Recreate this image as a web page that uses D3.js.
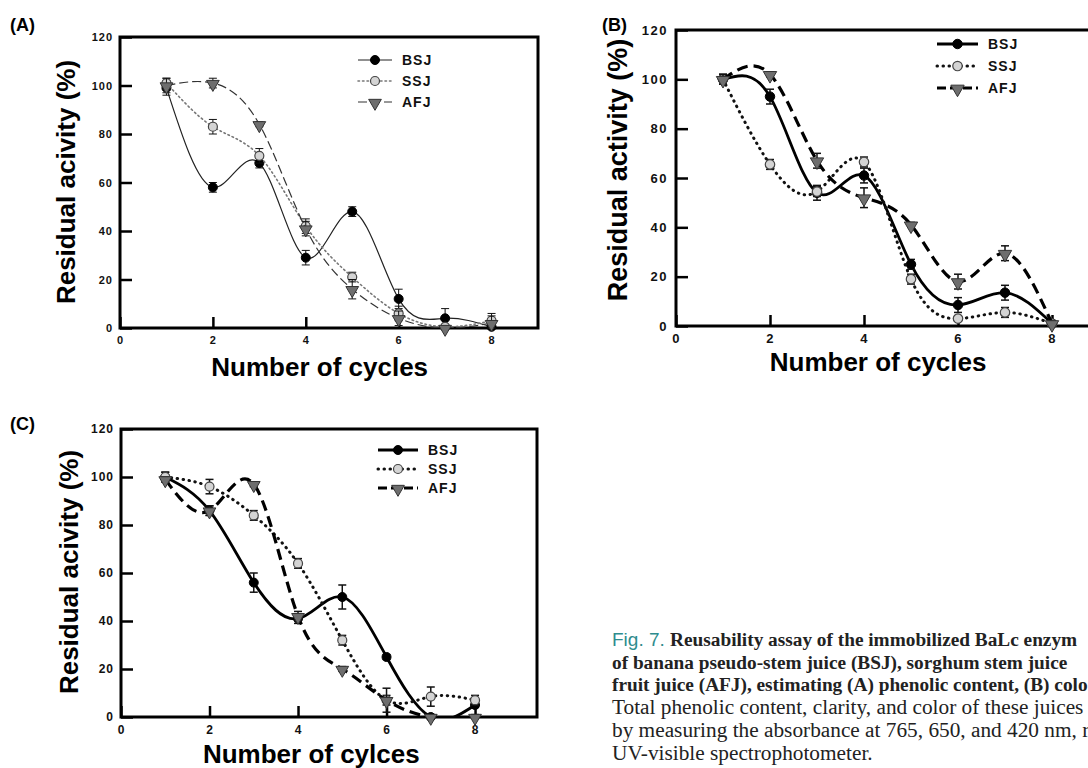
<!DOCTYPE html>
<html>
<head>
<meta charset="utf-8">
<script src="https://cdn.jsdelivr.net/npm/d3@7"></script>
<style>
  body { margin: 0; background: #fff; }
  svg { display: block; }
</style>
</head>
<body>
<div id="graph"></div>
<script>
// data
var cycles = [1, 2, 3, 4, 5, 6, 7, 8];
var xTicks = [0, 2, 4, 6, 8];
var yTicks = [0, 20, 40, 60, 80, 100, 120];
var seriesNames = ["BSJ", "SSJ", "AFJ"];

// (A) phenolic content
var bsjA = [99, 58, 68, 29, 48, 12, 4, 0.5];
var bsjAErr = [3, 2, 2, 3, 2, 4, 4, 1];
var ssjA = [101, 83, 71, 42, 21, 6, 0.5, 3];
var ssjAErr = [2, 3, 3, 3, 2, 3, 1, 3];
var afjA = [100, 101, 84, 41, 16, 4, 0, 2];
var afjAErr = [3, 2, 1, 3, 4, 3, 1, 3];

// (B) colour
var bsjB = [100, 93, 54, 61, 25, 8.5, 13.5, 1];
var bsjBErr = [2, 3, 3, 3, 2, 3, 3, 1];
var ssjB = [100, 65.5, 54.5, 66.5, 19, 3, 5.5, 1];
var ssjBErr = [2, 2, 2, 2, 2, 1, 2, 1];
var afjB = [100, 102, 67, 52, 41, 18, 29.5, 1];
var afjBErr = [2, 1, 3, 4, 1, 3, 3, 1];

// (C) clarity
var bsjC = [100, 86, 56, 41, 50, 25, 0, 5];
var bsjCErr = [2, 2, 4, 2, 5, 1, 1, 1];
var ssjC = [100, 96, 84, 64, 32, 7, 8.5, 7];
var ssjCErr = [2, 3, 2, 2, 2, 2, 4, 2];
var afjC = [99, 86, 97, 42, 20, 7, 0, 0];
var afjCErr = [1, 2, 1, 2, 1, 5, 1, 1];

// caption, as much of each line as the picture shows
var captionLines = [
  "Reusability assay of the immobilized BaLc enzym",
  "of banana pseudo-stem juice (BSJ), sorghum stem juice",
  "fruit juice (AFJ), estimating (A) phenolic content, (B) colo",
  "Total phenolic content, clarity, and color of these juices",
  "by measuring the absorbance at 765, 650, and 420 nm, r",
  "UV-visible spectrophotometer."
];

var svg = d3.select("#graph")
  .append("svg")
    .attr("width", 1088)
    .attr("height", 768);

var sans = "'Liberation Sans', Arial, sans-serif";

// line styles: thin for A, heavy for B and C
var thinStyle = {
  BSJ: {w: 1.2, dash: null, color: "#222"},
  SSJ: {w: 1.6, dash: "1.5,3", color: "#777"},
  AFJ: {w: 1.2, dash: "9,4", color: "#333"}
};
var heavyStyle = {
  BSJ: {w: 2.8, dash: null, color: "#000"},
  SSJ: {w: 3, dash: "0.5,5.5", color: "#111"},
  AFJ: {w: 3.2, dash: "11,6", color: "#000"}
};

function drawPanel(p) {
  var x = d3.scaleLinear().domain([0, p.xMax]).range([p.left, p.right]);
  var y = d3.scaleLinear().domain([0, 120]).range([p.bottom, p.top]);
  var g = svg.append("g");

  var clipId = "clip" + p.label;
  svg.append("clipPath").attr("id", clipId)
    .append("rect")
      .attr("x", p.left).attr("y", p.top)
      .attr("width", p.right - p.left).attr("height", p.bottom - p.top);

  // y axis, ticks pointing inwards
  var yAxis = g.append("g")
    .attr("transform", "translate(" + p.left + ",0)")
    .call(d3.axisLeft(y).tickValues(yTicks).tickSizeInner(-12).tickSizeOuter(0).tickPadding(p.yPad));
  yAxis.select(".domain").remove();
  yAxis.selectAll("line").attr("stroke", "#000").attr("stroke-width", 2.5);
  yAxis.selectAll("text")
    .attr("font-family", sans).attr("font-weight", "bold")
    .attr("font-size", p.tickFont).attr("letter-spacing", p.tickSpacing)
    .attr("fill", "#111");

  var xAxis = g.append("g")
    .attr("transform", "translate(0," + p.bottom + ")")
    .call(d3.axisBottom(x).tickValues(xTicks).tickSizeInner(-11).tickSizeOuter(0).tickPadding(p.xPad));
  xAxis.select(".domain").remove();
  xAxis.selectAll("line").attr("stroke", "#000").attr("stroke-width", 2.5);
  xAxis.selectAll("text")
    .attr("font-family", sans).attr("font-weight", "bold")
    .attr("font-size", p.tickFont).attr("letter-spacing", p.tickSpacing)
    .attr("fill", "#111");

  // frame
  g.append("rect")
    .attr("x", p.left).attr("y", p.top)
    .attr("width", p.right - p.left).attr("height", p.bottom - p.top)
    .attr("fill", "none").attr("stroke", "#000").attr("stroke-width", 3);

  // axis titles
  g.append("text")
    .attr("x", (x(0) + x(8.6)) / 2).attr("y", p.xTitleY)
    .attr("text-anchor", "middle")
    .attr("font-family", sans).attr("font-weight", "bold").attr("font-size", 26)
    .text(p.xTitle);
  g.append("text")
    .attr("transform", "translate(" + p.yTitleX + "," + p.yTitleMid + ") rotate(-90)")
    .attr("text-anchor", "middle")
    .attr("font-family", sans).attr("font-weight", "bold").attr("font-size", p.yTitleFont)
    .text(p.yTitle);

  g.append("text")
    .attr("x", p.labelX).attr("y", p.labelY)
    .attr("font-family", sans).attr("font-weight", "bold").attr("font-size", 18)
    .text("(" + p.label + ")");

  var line = d3.line()
    .x(function(d) { return x(d.c); })
    .y(function(d) { return y(d.v); })
    .curve(d3.curveNatural);

  p.series.forEach(function(s) {
    var st = p.style[s.name];
    var pts = cycles.map(function(c, i) { return {c: c, v: s.values[i], e: s.err[i]}; });

    g.append("path")
      .datum(pts)
      .attr("clip-path", "url(#" + clipId + ")")
      .attr("fill", "none")
      .attr("stroke", st.color)
      .attr("stroke-width", st.w)
      .attr("stroke-linecap", s.name == "SSJ" ? "round" : "butt")
      .attr("stroke-dasharray", st.dash)
      .attr("d", line);

    // error bars
    var eb = g.append("g").attr("stroke", "#111").attr("stroke-width", p.errW);
    pts.forEach(function(d) {
      eb.append("line").attr("x1", x(d.c)).attr("x2", x(d.c))
        .attr("y1", y(Math.max(0, d.v - d.e))).attr("y2", y(d.v + d.e));
      eb.append("line").attr("x1", x(d.c) - 4).attr("x2", x(d.c) + 4)
        .attr("y1", y(d.v + d.e)).attr("y2", y(d.v + d.e));
      eb.append("line").attr("x1", x(d.c) - 4).attr("x2", x(d.c) + 4)
        .attr("y1", y(Math.max(0, d.v - d.e))).attr("y2", y(Math.max(0, d.v - d.e)));
    });

    pts.forEach(function(d) {
      drawMarker(g, s.name, x(d.c), y(d.v), p.markerScale);
    });
  });

  // legend
  seriesNames.forEach(function(name, i) {
    var st = p.style[name];
    var ly = p.legY + i * p.legStep;
    g.append("line")
      .attr("x1", p.legX).attr("x2", p.legX + p.legLen)
      .attr("y1", ly).attr("y2", ly)
      .attr("stroke", st.color).attr("stroke-width", st.w)
      .attr("stroke-linecap", name == "SSJ" ? "round" : "butt")
      .attr("stroke-dasharray", name == "AFJ" ? "9,4" : st.dash);
    drawMarker(g, name, p.legX + p.legLen / 2, ly, p.markerScale);
    g.append("text")
      .attr("x", p.legX + p.legLen + 10).attr("y", ly + 5)
      .attr("font-family", sans).attr("font-weight", "bold").attr("font-size", 14)
      .attr("letter-spacing", 1)
      .attr("fill", "#111")
      .text(name);
  });
}

function drawMarker(g, name, cx, cy, k) {
  if (name == "BSJ") {
    g.append("circle").attr("cx", cx).attr("cy", cy).attr("r", 4.5 * k)
      .attr("fill", "#000").attr("stroke", "#000");
  } else if (name == "SSJ") {
    g.append("circle").attr("cx", cx).attr("cy", cy).attr("r", 4.5 * k)
      .attr("fill", "#d4d4d4").attr("stroke", "#444").attr("stroke-width", 1.2);
  } else {
    g.append("path")
      .attr("d", d3.symbol(d3.symbolTriangle, 70 * k * k)())
      .attr("transform", "translate(" + cx + "," + (cy + 1) + ") rotate(180)")
      .attr("fill", "#6e6e6e").attr("stroke", "#333").attr("stroke-width", 1);
  }
}

drawPanel({
  label: "A", left: 120, right: 538, top: 37, bottom: 328, xMax: 9,
  yPad: 7, xPad: 8, tickFont: 11, tickSpacing: 1,
  xTitle: "Number of cycles", xTitleY: 376,
  yTitle: "Residual acivity (%)", yTitleX: 75, yTitleMid: 182, yTitleFont: 26,
  labelX: 10, labelY: 31,
  style: thinStyle, errW: 1, markerScale: 1,
  legX: 358, legY: 60, legStep: 21, legLen: 34,
  series: [
    {name: "BSJ", values: bsjA, err: bsjAErr},
    {name: "SSJ", values: ssjA, err: ssjAErr},
    {name: "AFJ", values: afjA, err: afjAErr}
  ]
});

drawPanel({
  label: "B", left: 676, right: 1099, top: 30, bottom: 326, xMax: 9,
  yPad: 8, xPad: 8, tickFont: 13, tickSpacing: 1.5,
  xTitle: "Number of cycles", xTitleY: 371,
  yTitle: "Residual activity (%)", yTitleX: 627, yTitleMid: 170, yTitleFont: 27,
  labelX: 602, labelY: 31,
  style: heavyStyle, errW: 1.5, markerScale: 1.05,
  legX: 937, legY: 44, legStep: 22, legLen: 41,
  series: [
    {name: "BSJ", values: bsjB, err: bsjBErr},
    {name: "SSJ", values: ssjB, err: ssjBErr},
    {name: "AFJ", values: afjB, err: afjBErr}
  ]
});

drawPanel({
  label: "C", left: 121, right: 537, top: 429, bottom: 717, xMax: 9.4,
  yPad: 7, xPad: 8, tickFont: 12, tickSpacing: 1,
  xTitle: "Number of cylces", xTitleY: 763,
  yTitle: "Residual acivity (%)", yTitleX: 78, yTitleMid: 572, yTitleFont: 26,
  labelX: 10, labelY: 430,
  style: heavyStyle, errW: 1.5, markerScale: 1,
  legX: 378, legY: 450, legStep: 19, legLen: 40,
  series: [
    {name: "BSJ", values: bsjC, err: bsjCErr},
    {name: "SSJ", values: ssjC, err: ssjCErr},
    {name: "AFJ", values: afjC, err: afjCErr}
  ]
});

// figure caption
var cap = svg.append("g");
captionLines.forEach(function(t, i) {
  var tx = cap.append("text")
    .attr("x", 612).attr("y", 646 + i * 22.7)
    .attr("font-family", "'Liberation Serif', 'Times New Roman', serif")
    .attr("font-size", i < 3 ? 19.3 : 21.3)
    .attr("font-weight", i < 3 ? "bold" : "normal")
    .attr("fill", "#222");
  if (i == 0) {
    tx.append("tspan")
      .attr("font-family", sans).attr("font-weight", "normal").attr("font-size", 19)
      .attr("fill", "#2e8c8e")
      .text("Fig. 7. ");
  }
  tx.append("tspan").text(t);
});
</script>
</body>
</html>
